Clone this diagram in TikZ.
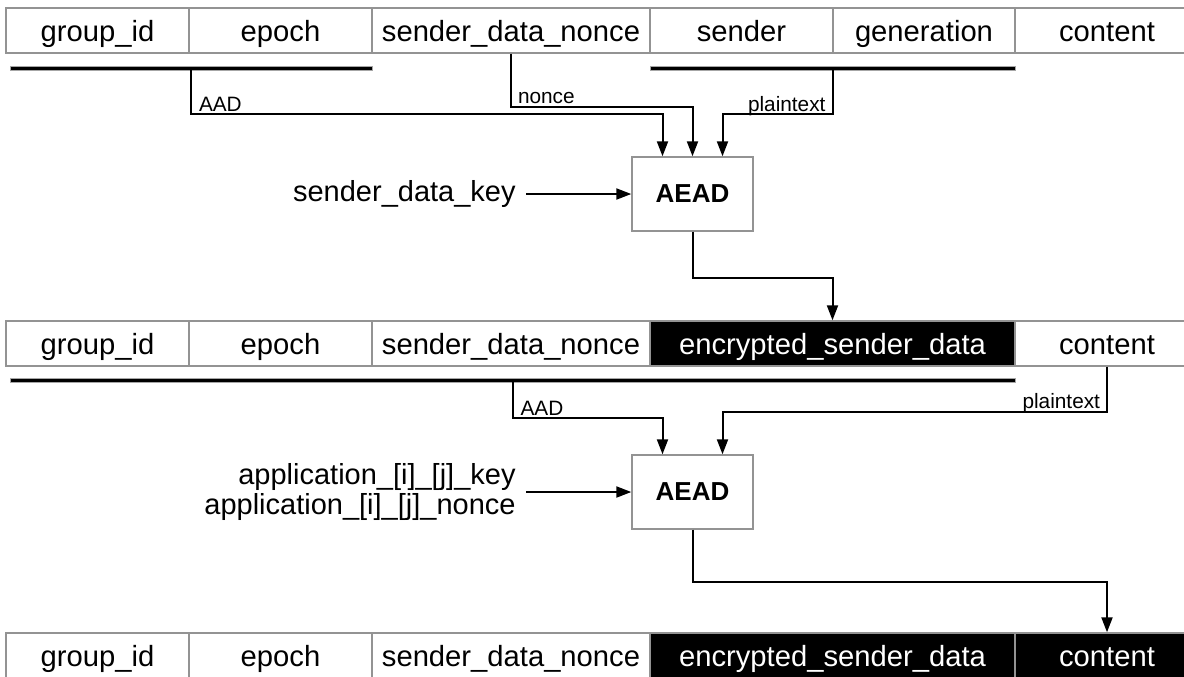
\documentclass[tikz,border=0pt]{standalone}
\usepackage{fontspec}
\setmainfont{Liberation Sans}
\usetikzlibrary{arrows.meta}
\tikzset{
  cell/.style={draw=gray!85, line width=0.7pt, fill=white, minimum height=22.5pt,
               inner sep=0pt, text height=12pt, text depth=1.5pt,
               font=\fontsize{14.6}{16}\selectfont},
  inv/.style={cell, fill=black, text=white},
  bar/.style={draw=gray!70, fill=black, line width=0.4pt, minimum height=2pt, inner sep=0pt},
  aead/.style={draw=gray!85, line width=0.7pt, minimum width=60.5pt, minimum height=37pt,
               font=\fontsize{13}{15}\selectfont\bfseries},
  conn/.style={line width=1pt, -{Triangle[length=7.5pt,width=5.5pt]}},
  lbl/.style={inner sep=0pt, font=\fontsize{10.4}{12}\selectfont},
  keytxt/.style={inner xsep=5pt, inner ysep=0pt, align=right, font=\fontsize{14.5}{15}\selectfont}
}
\begin{document}
\begin{tikzpicture}[x=0.5pt,y=-0.5pt]
\useasboundingbox (0,0) rectangle (1184,676);
\clip (0,0) rectangle (1184,676);

% plaintext message
\foreach \n/\a/\b/\s/\t in {gid/6/189/cell/group\_id, ep/189/372/cell/epoch,
    nonce/372/650/cell/sender\_data\_nonce, snd/650/833/cell/sender,
    gen/833/1015/cell/generation, content/1015/1199/cell/content}
  \node[\s, minimum width={(\b-\a)*0.5pt}] (r1\n) at ({(\a+\b)/2},30.5) {\t};
\node[bar, minimum width=181pt] (bar1) at (191,68) {};
\node[bar, minimum width=182.5pt] (bar2) at (832.5,68) {};

% sender data encryption
\node[aead] (aead1) at (692.5,194) {AEAD};
\node[keytxt, anchor=east] (sdk) at (526,194) {sender\_data\_key};
\draw[conn] (sdk) -- (aead1);
\draw[conn] (bar1.south) -- ++(0,44) node[lbl, anchor=base west, xshift=3.5pt, yshift=1.5pt] {AAD}
  -| ([xshift=-15pt]aead1.north);
\draw[conn] (r1nonce.south) -- ++(0,53) node[lbl, anchor=base west, xshift=3pt, yshift=1.5pt] {nonce}
  -| (aead1.north);
\draw[conn] (bar2.south) -- ++(0,44) node[lbl, anchor=base east, xshift=-3pt, yshift=1.5pt] {plaintext}
  -| ([xshift=15pt]aead1.north);

% sender data encrypted
\foreach \n/\a/\b/\s/\t in {gid/6/189/cell/group\_id, ep/189/372/cell/epoch,
    nonce/372/650/cell/sender\_data\_nonce, enc/650/1015/inv/encrypted\_sender\_data,
    content/1015/1199/cell/content}
  \node[\s, minimum width={(\b-\a)*0.5pt}] (r2\n) at ({(\a+\b)/2},343.5) {\t};
\node[bar, minimum width=502.5pt] (bar3) at (512.5,380) {};
\draw[conn] (aead1.south) -- ++(0,46) -| (r2enc.north);

% content encryption
\node[aead] (aead2) at (692.5,492) {AEAD};
\node[keytxt, anchor=east] (appk) at (526,492) {application\_[i]\_[j]\_key\\application\_[i]\_[j]\_nonce};
\draw[conn] (appk) -- (aead2);
\draw[conn] (bar3.south) -- ++(0,36) node[lbl, anchor=base west, xshift=3.5pt, yshift=1.5pt] {AAD}
  -| ([xshift=-15pt]aead2.north);
\draw[conn] (r2content.south) -- ++(0,45) node[lbl, anchor=base east, xshift=-3pt, yshift=1.5pt] {plaintext}
  -| ([xshift=15pt]aead2.north);

% fully encrypted message
\foreach \n/\a/\b/\s/\t in {gid/6/189/cell/group\_id, ep/189/372/cell/epoch,
    nonce/372/650/cell/sender\_data\_nonce, enc/650/1015/inv/encrypted\_sender\_data,
    content/1015/1199/inv/content}
  \node[\s, minimum width={(\b-\a)*0.5pt}] (r3\n) at ({(\a+\b)/2},655.5) {\t};
\draw[conn] (aead2.south) -- ++(0,52) -| (r3content.north);
\end{tikzpicture}
\end{document}
